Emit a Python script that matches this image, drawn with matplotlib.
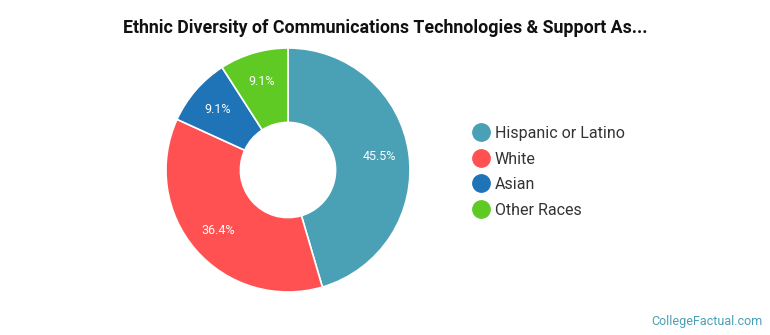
import matplotlib
matplotlib.use("Agg")
import matplotlib.pyplot as plt
from matplotlib.lines import Line2D

plt.rcParams['font.family'] = ['Roboto', 'DejaVu Sans']

categories = ["Hispanic or Latino", "White", "Asian", "Other Races"]
values = [45.5, 36.4, 9.1, 9.1]
colors = ["#4AA0B5", "#FF5152", "#1F73B7", "#5FCA24"]
title = "Ethnic Diversity of Communications Technologies & Support As..."

W, H = 770, 335
fig = plt.figure(figsize=(W / 100, H / 100), dpi=100)
fig.patch.set_facecolor("white")

cx, cy, r = 288, 170, 122
ax = fig.add_axes([(cx - r) / W, (H - cy - r) / H, 2 * r / W, 2 * r / H])
wedges, texts, autotexts = ax.pie(
    values, colors=colors, startangle=90, counterclock=False,
    radius=1.0, autopct=lambda p: f"{p:.1f}%", pctdistance=0.76,
    wedgeprops=dict(width=0.61, edgecolor="white", linewidth=1.2),
    textprops=dict(color="white", fontsize=9))
ax.set_xlim(-1, 1)
ax.set_ylim(-1, 1)
ax.set_aspect("equal")
ax.axis("off")

fig.text(385 / W, 1 - 28 / H, title, ha="center", va="center",
         fontsize=12.8, fontweight="bold", color="#111111")

handles = [Line2D([0], [0], marker="o", linestyle="none", markersize=12.5,
                  markerfacecolor=c, markeredgecolor=c) for c in colors]
leg = fig.legend(handles, categories, loc="upper left",
                 bbox_to_anchor=(463 / W, 1 - 118 / H), frameon=False,
                 fontsize=11.5, handletextpad=0.3, labelspacing=0.66,
                 handlelength=1.2, borderpad=0)
for t in leg.get_texts():
    t.set_color("#333333")

fig.text(763 / W, 1 - 321 / H, "CollegeFactual.com", ha="right", va="center",
         fontsize=9, color="#4A9FB5")

fig.savefig("out.png", dpi=100, facecolor="white")
